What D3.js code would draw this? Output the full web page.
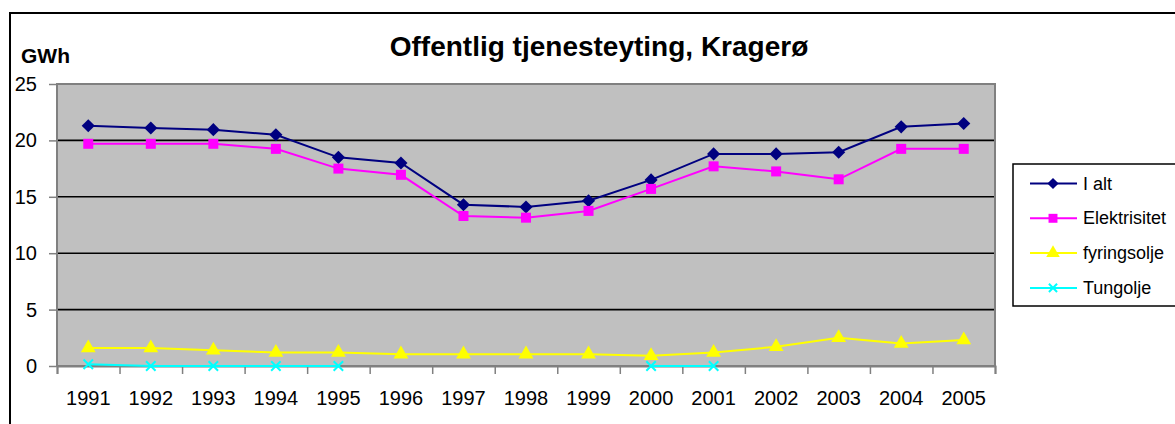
<!DOCTYPE html>
<html>
<head>
<meta charset="utf-8">
<script src="https://cdn.jsdelivr.net/npm/d3@7"></script>
<style>
  body { margin: 0; background: #fff; }
  svg { display: block; font-family: Arial, "Liberation Sans", sans-serif; }
</style>
</head>
<body>
<svg id="chart" width="1175" height="424"></svg>
<script>
const years = ['1991', '1992', '1993', '1994', '1995', '1996', '1997', '1998',
  '1999', '2000', '2001', '2002', '2003', '2004', '2005'];
const iAlt = [21.3, 21.1, 20.95, 20.5, 18.5, 18.0, 14.3, 14.1, 14.65, 16.5, 18.8, 18.8, 18.95, 21.2, 21.5];
const elektrisitet = [19.7, 19.7, 19.7, 19.25, 17.5, 16.95, 13.3, 13.15, 13.75, 15.7, 17.7, 17.25, 16.55, 19.25, 19.25];
const fyringsolje = [1.6, 1.6, 1.4, 1.2, 1.2, 1.05, 1.05, 1.05, 1.05, 0.9, 1.2, 1.7, 2.5, 2.0, 2.3];
const tungolje = [0.15, 0, 0, 0, 0, null, null, null, null, 0, 0, null, null, null, null];
const yTicks = [0, 5, 10, 15, 20, 25];

const series = [
  {name: 'I alt', values: iAlt, color: '#000080', marker: 'diamond'},
  {name: 'Elektrisitet', values: elektrisitet, color: '#ff00ff', marker: 'square'},
  {name: 'fyringsolje', values: fyringsolje, color: '#ffff00', marker: 'triangle'},
  {name: 'Tungolje', values: tungolje, color: '#00ffff', marker: 'cross'}
];

const svg = d3.select('#chart');
const plotLeft = 57, plotRight = 995, plotTop = 84, plotBottom = 366;

const x = d3.scaleBand().domain(years).range([plotLeft, plotRight]);
const xEdge = d3.scaleLinear().domain([0, years.length]).range([plotLeft, plotRight]);
const y = d3.scaleLinear().domain([0, 25]).range([plotBottom, plotTop]);

// outer chart frame
svg.append('rect')
  .attr('x', 10).attr('y', 13)
  .attr('width', 1300).attr('height', 600)
  .attr('fill', 'none').attr('stroke', '#000').attr('stroke-width', 2);

// plot background
svg.append('rect')
  .attr('x', plotLeft).attr('y', plotTop)
  .attr('width', plotRight - plotLeft).attr('height', plotBottom - plotTop)
  .attr('fill', '#c0c0c0');

// gridlines
svg.append('g')
  .selectAll('line')
  .data(yTicks.filter(d => d > 0 && d < 25))
  .enter()
  .append('line')
  .attr('x1', plotLeft).attr('x2', plotRight)
  .attr('y1', d => y(d)).attr('y2', d => y(d))
  .attr('stroke', '#000').attr('stroke-width', 1.6);

svg.append('rect')
  .attr('x', plotLeft).attr('y', plotTop)
  .attr('width', plotRight - plotLeft).attr('height', plotBottom - plotTop)
  .attr('fill', 'none').attr('stroke', '#808080').attr('stroke-width', 2);

// y axis
const yAxis = svg.append('g')
  .attr('transform', 'translate(' + plotLeft + ',0)')
  .call(d3.axisLeft(y).tickValues(yTicks).tickSize(8).tickPadding(12));
yAxis.select('.domain').remove();
yAxis.selectAll('line').attr('stroke', '#808080').attr('stroke-width', 1.5);
yAxis.selectAll('text')
  .style('font-size', '20px').style('font-family', 'Arial, "Liberation Sans", sans-serif')
  .attr('fill', '#000');

// x axis: ticks at category edges, labels at centres
const xTicks = svg.append('g')
  .attr('transform', 'translate(0,' + plotBottom + ')')
  .call(d3.axisBottom(xEdge).tickValues(d3.range(years.length + 1)).tickSize(8).tickFormat(''));
xTicks.select('.domain').attr('stroke', '#808080').attr('stroke-width', 2);
xTicks.selectAll('line').attr('stroke', '#808080').attr('stroke-width', 1.5);

const xLabels = svg.append('g')
  .attr('transform', 'translate(0,' + plotBottom + ')')
  .call(d3.axisBottom(x).tickSize(0).tickPadding(25));
xLabels.select('.domain').remove();
xLabels.selectAll('text')
  .style('font-size', '20px').style('font-family', 'Arial, "Liberation Sans", sans-serif')
  .attr('fill', '#000');

// markers
const symbolFor = {
  diamond: d3.symbol().type(d3.symbolDiamond2).size(110),
  square: d3.symbol().type(d3.symbolSquare).size(100),
  triangle: d3.symbol().type(d3.symbolTriangle).size(95),
  cross: d3.symbol().type(d3.symbolX).size(60)
};

const line = d3.line()
  .defined(d => d.v !== null)
  .x(d => x(d.year) + x.bandwidth() / 2)
  .y(d => y(d.v));

series.forEach(s => {
  const pts = years.map((year, i) => ({year: year, v: s.values[i]}));
  svg.append('path')
    .datum(pts)
    .attr('d', line)
    .attr('fill', 'none')
    .attr('stroke', s.color)
    .attr('stroke-width', 2);

  svg.append('g')
    .selectAll('path')
    .data(pts.filter(d => d.v !== null))
    .enter()
    .append('path')
    .attr('d', symbolFor[s.marker])
    .attr('transform', d => 'translate(' + (x(d.year) + x.bandwidth() / 2) + ',' + y(d.v) + ')')
    .attr('fill', s.marker === 'cross' ? 'none' : s.color)
    .attr('stroke', s.color)
    .attr('stroke-width', s.marker === 'cross' ? 2 : 0);
});

// titles
svg.append('text')
  .attr('x', 599).attr('y', 56)
  .attr('text-anchor', 'middle')
  .style('font-size', '28px').style('font-weight', 'bold')
  .text('Offentlig tjenesteyting, Kragerø');

svg.append('text')
  .attr('x', 21).attr('y', 63)
  .style('font-size', '21px').style('font-weight', 'bold')
  .text('GWh');

// legend
const legend = svg.append('g');
legend.append('rect')
  .attr('x', 1013).attr('y', 164)
  .attr('width', 200).attr('height', 142)
  .attr('fill', '#fff').attr('stroke', '#000').attr('stroke-width', 1.5);

const entries = legend.selectAll('g.entry')
  .data(series)
  .enter()
  .append('g')
  .attr('transform', (d, i) => 'translate(0,' + (183.5 + i * 34.8) + ')');

entries.append('line')
  .attr('x1', 1030).attr('x2', 1077)
  .attr('stroke', d => d.color).attr('stroke-width', 2);
entries.append('path')
  .attr('d', d => d3.symbol().type({
    diamond: d3.symbolDiamond2, square: d3.symbolSquare,
    triangle: d3.symbolTriangle, cross: d3.symbolX
  }[d.marker]).size(d.marker === 'cross' ? 45 : 80)())
  .attr('transform', 'translate(1053,0)')
  .attr('fill', d => d.marker === 'cross' ? 'none' : d.color)
  .attr('stroke', d => d.color)
  .attr('stroke-width', d => d.marker === 'cross' ? 2 : 0);
entries.append('text')
  .attr('x', 1083).attr('y', 6)
  .style('font-size', '18px')
  .text(d => d.name);
</script>
</body>
</html>
